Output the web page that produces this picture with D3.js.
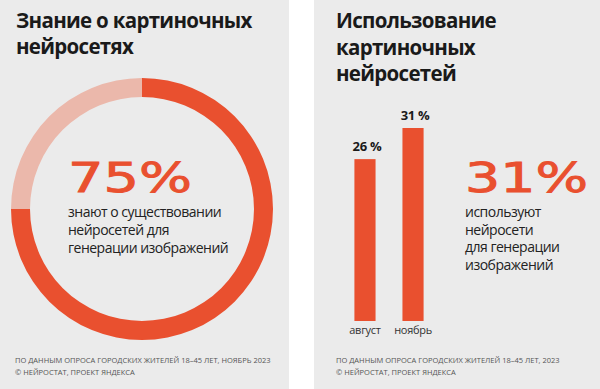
<!DOCTYPE html>
<html lang="ru">
<head>
<meta charset="UTF-8">
<title>Нейросети</title>
<script src="https://cdn.jsdelivr.net/npm/d3@7/dist/d3.min.js"></script>
<style>
    * { margin: 0; padding: 0; }
    body { background: #fff; }
    svg { display: block; }
    .title { font-family: "Open Sans", sans-serif; font-weight: 700; font-size: 20.5px; letter-spacing: -0.7px; fill: #1a1a1a; }
    .big { font-family: "DejaVu Sans", sans-serif; font-size: 40px; fill: #e9502f; stroke: #e9502f; stroke-width: 0.9px; }
    .sub { font-family: "Open Sans", sans-serif; font-size: 14px; letter-spacing: -0.5px; fill: #222; }
    .note { font-family: "Open Sans", sans-serif; font-size: 7.5px; fill: #555; }
    .val { font-family: "Open Sans", sans-serif; font-weight: 700; font-size: 13px; letter-spacing: -0.3px; fill: #1a1a1a; }
    .cat { font-family: "Open Sans", sans-serif; font-size: 11px; letter-spacing: -0.3px; fill: #333; }
</style>
</head>
<body>
<script>
    // left panel: awareness
    var awareShare = [75, 25];
    var awareColors = ["#e9502f", "#ebb8ab"];
    // right panel: usage by month
    var months = ["август", "ноябрь"];
    var usage = [26, 31];
    var usageLabels = ["26 %", "31 %"];

    var width = 600, height = 389;
    var red = "#e9502f", panelBg = "#ebebeb";

    var svg = d3.select("body").append("svg")
        .attr("width", width)
        .attr("height", height);

    svg.append("rect").attr("x", 0).attr("y", 0).attr("width", 289).attr("height", height).attr("fill", panelBg);
    svg.append("rect").attr("x", 314).attr("y", 0).attr("width", width - 314).attr("height", height).attr("fill", panelBg);

    function lines(g, arr, x, y, lh, cls) {
        var t = g.append("text").attr("class", cls);
        arr.forEach(function(s, i) {
            t.append("tspan").attr("x", x).attr("y", y + i * lh).text(s);
        });
        return t;
    }

    // ---- left: donut
    var left = svg.append("g");
    lines(left, ["Знание о картиночных", "нейросетях"], 16, 28, 25.5, "title");

    var pie = d3.pie().sort(null).value(function(d) { return d; });
    var arc = d3.arc().innerRadius(112).outerRadius(131);
    left.append("g")
        .attr("transform", "translate(142,209)")
        .selectAll("path")
        .data(pie(awareShare))
        .enter().append("path")
        .attr("d", arc)
        .attr("fill", function(d, i) { return awareColors[i]; });

    left.append("text").attr("class", "big")
        .attr("x", 68).attr("y", 192)
        .attr("textLength", 124).attr("lengthAdjust", "spacingAndGlyphs")
        .text(awareShare[0] + "%");
    lines(left, ["знают о существовании", "нейросетей для", "генерации изображений"], 68, 217, 18, "sub");

    lines(left, ["ПО ДАННЫМ ОПРОСА ГОРОДСКИХ ЖИТЕЛЕЙ 18–45 ЛЕТ, НОЯБРЬ 2023",
                 "© НЕЙРОСТАТ, ПРОЕКТ ЯНДЕКСА"], 15, 363, 11.5, "note");

    // ---- right: bars
    var right = svg.append("g");
    lines(right, ["Использование", "картиночных", "нейросетей"], 336, 28, 26.5, "title");

    var x = d3.scaleBand().domain(months).range([340, 438]).paddingInner(0.56).paddingOuter(0.3);
    var y = d3.scaleLinear().domain([0, 31]).range([321, 128]);

    right.selectAll(".bar")
        .data(usage)
        .enter().append("rect")
        .attr("class", "bar")
        .attr("x", function(d, i) { return x(months[i]); })
        .attr("y", function(d) { return y(d); })
        .attr("width", x.bandwidth())
        .attr("height", function(d) { return y(0) - y(d); })
        .attr("fill", red);

    right.selectAll(".val")
        .data(usage)
        .enter().append("text")
        .attr("class", "val")
        .attr("text-anchor", "middle")
        .attr("x", function(d, i) { return x(months[i]) + x.bandwidth() / 2 + 2; })
        .attr("y", function(d) { return y(d) - 8; })
        .text(function(d, i) { return usageLabels[i]; });

    var xAxis = d3.axisBottom(x).tickSize(0).tickPadding(0);
    var ax = right.append("g").attr("transform", "translate(0,323)").call(xAxis);
    ax.select(".domain").remove();
    ax.selectAll("text").attr("class", "cat").attr("font-size", null).attr("font-family", null)
        .attr("fill", null).attr("dy", null).attr("y", 11);

    right.append("text").attr("class", "big")
        .attr("x", 465).attr("y", 192)
        .attr("textLength", 123).attr("lengthAdjust", "spacingAndGlyphs")
        .text(usage[1] + "%");
    lines(right, ["используют", "нейросети", "для генерации", "изображений"], 465, 217, 17.5, "sub");

    lines(right, ["ПО ДАННЫМ ОПРОСА ГОРОДСКИХ ЖИТЕЛЕЙ 18–45 ЛЕТ, 2023",
                  "© НЕЙРОСТАТ, ПРОЕКТ ЯНДЕКСА"], 336, 363, 11.5, "note");
</script>
</body>
</html>
